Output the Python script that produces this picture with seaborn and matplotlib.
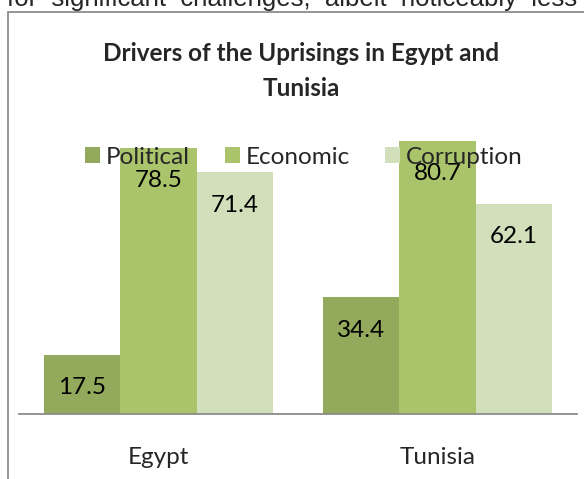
import matplotlib
matplotlib.use('Agg')
import matplotlib.pyplot as plt
from matplotlib.patches import Rectangle, Patch
import seaborn as sns
import pandas as pd

countries = ['Egypt', 'Tunisia']
drivers = ['Political', 'Economic', 'Corruption']
political = [17.5, 34.4]
economic = [78.5, 80.7]
corruption = [71.4, 62.1]
colors = ['#93A95B', '#AAC46B', '#D1DFBB']

df = pd.DataFrame({
    'country': countries * 3,
    'driver': [d for d in drivers for _ in countries],
    'value': political + economic + corruption,
})

sns.set_theme(style='white')
plt.rcParams['font.family'] = ['Lato', 'DejaVu Sans']

W, H = 584, 479
fig = plt.figure(figsize=(W / 100, H / 100), dpi=100)
ax = fig.add_axes([19 / W, 65 / H, 558 / W, 305 / H])

sns.barplot(data=df, x='country', y='value', hue='driver', hue_order=drivers,
            palette=colors, width=0.82, saturation=1, linewidth=0,
            legend=False, ax=ax)

ax.set_ylim(0, 90)
ax.set_xlim(-0.5, 1.5)
ax.set_yticks([])
ax.set_xlabel('')
ax.set_ylabel('')
ax.tick_params(axis='x', length=0, pad=24, labelsize=17.5)
sns.despine(ax=ax, left=True)
ax.spines['bottom'].set_color('#8c8c8c')
ax.spines['bottom'].set_linewidth(1.3)

# value labels inside the top of each bar
for cont in ax.containers:
    for bar in cont:
        ax.annotate(f'{bar.get_height():.1f}',
                    (bar.get_x() + bar.get_width() / 2, bar.get_height()),
                    xytext=(0, -33 * 0.72), textcoords='offset points',
                    ha='center', va='center', fontsize=17.5, color='black')

handles = [Patch(facecolor=c, edgecolor='none') for c in colors]
ax.legend(handles, drivers, loc='center', bbox_to_anchor=(304 / W, 1 - 157 / H),
          bbox_transform=fig.transFigure, ncol=3, frameon=False, fontsize=17.5,
          handlelength=0.6, handleheight=0.6, handletextpad=0.25,
          columnspacing=1.45, borderpad=0)

fig.text(301 / W, 1 - 71 / H, 'Drivers of the Uprisings in Egypt and\nTunisia',
         ha='center', va='center', fontsize=17.5, fontweight='bold',
         linespacing=1.6)

# cut-off line of body text above the chart frame
fig.text(0.5, 1 - 6 / H, 'for  significant  challenges,  albeit  noticeably  less',
         ha='center', va='baseline', fontsize=18.5, family='Liberation Sans')

fig.add_artist(Rectangle((8 / W, -0.1), 1.2, 1.1 - 12 / H, transform=fig.transFigure,
                         fill=False, edgecolor='#8c8c8c', linewidth=1.3))

fig.savefig('out.png', dpi=100)
